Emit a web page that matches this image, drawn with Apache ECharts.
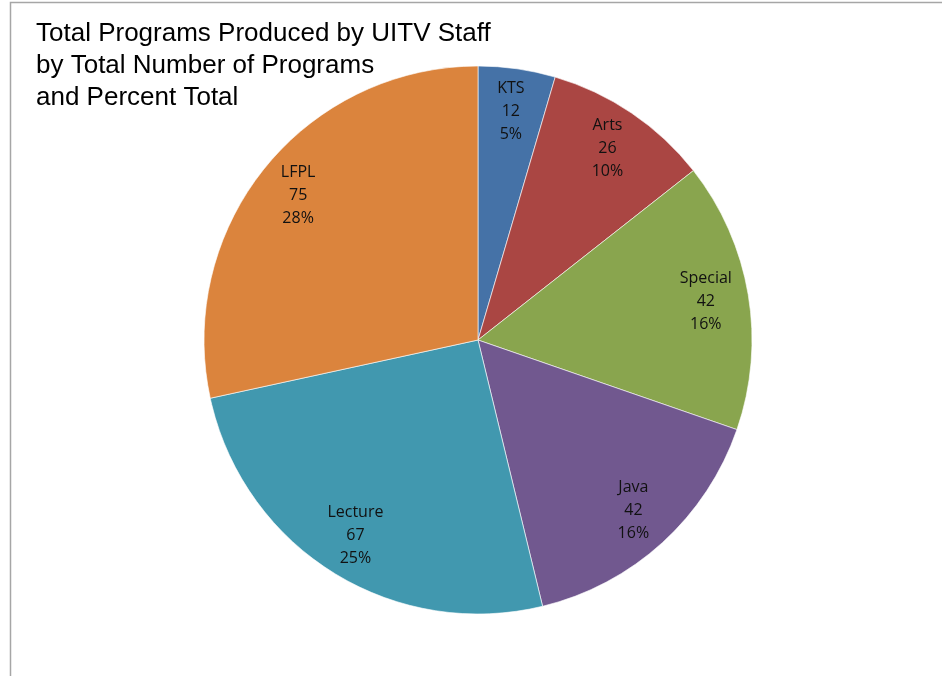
<!DOCTYPE html>
<html>
<head>
<meta charset="utf-8">
<script src="https://cdn.jsdelivr.net/npm/echarts@6/dist/echarts.min.js"></script>
<style>
  html, body { margin: 0; padding: 0; background: #fff; }
  #main { width: 942px; height: 676px; }
</style>
</head>
<body>
<div id="main"></div>
<script>
// data
var categories = ['KTS', 'Arts', 'Special', 'Java', 'Lecture', 'LFPL'];
var values = [12, 26, 42, 42, 67, 75];
var colors = ['#4572A7', '#AA4643', '#89A54E', '#71588F', '#4198AF', '#DB843D'];

var pieData = categories.map(function (name, i) {
    return { name: name, value: values[i], itemStyle: { color: colors[i] } };
});

var chart = echarts.init(document.getElementById('main'));
chart.setOption({
    animation: false,
    title: {
        text: 'Total Programs Produced by UITV Staff\nby Total Number of Programs\nand Percent Total',
        left: 31,
        top: 13,
        textStyle: {
            fontFamily: 'Liberation Sans, Arial',
            fontSize: 26,
            fontWeight: 'normal',
            color: '#000',
            lineHeight: 32
        }
    },
    // frame of the chart area
    graphic: [{
        type: 'rect',
        shape: { x: 10.5, y: 2.5, width: 960, height: 700 },
        style: { fill: 'none', stroke: '#a6a6a6', lineWidth: 1.5 },
        silent: true
    }],
    series: [
        {
            type: 'pie',
            center: [478, 340],
            radius: [0, 274],
            startAngle: 90,
            clockwise: true,
            label: { show: false },
            labelLine: { show: false },
            itemStyle: { borderColor: 'rgba(255,255,255,0.6)', borderWidth: 1 },
            emphasis: { disabled: true },
            data: pieData
        },
        {
            // transparent ring that only carries the labels
            type: 'pie',
            center: [478, 340],
            radius: [182, 274],
            startAngle: 90,
            clockwise: true,
            silent: true,
            itemStyle: { color: 'transparent' },
            labelLine: { show: false },
            label: {
                show: true,
                position: 'inside',
                formatter: function (p) {
                    return p.name + '\n' + p.value + '\n' + Math.round(p.percent) + '%';
                },
                fontFamily: 'Open Sans, DejaVu Sans',
                fontSize: 16,
                lineHeight: 23,
                color: '#111'
            },
            emphasis: { disabled: true },
            data: categories.map(function (name, i) {
                return { name: name, value: values[i] };
            })
        }
    ]
});
</script>
</body>
</html>
